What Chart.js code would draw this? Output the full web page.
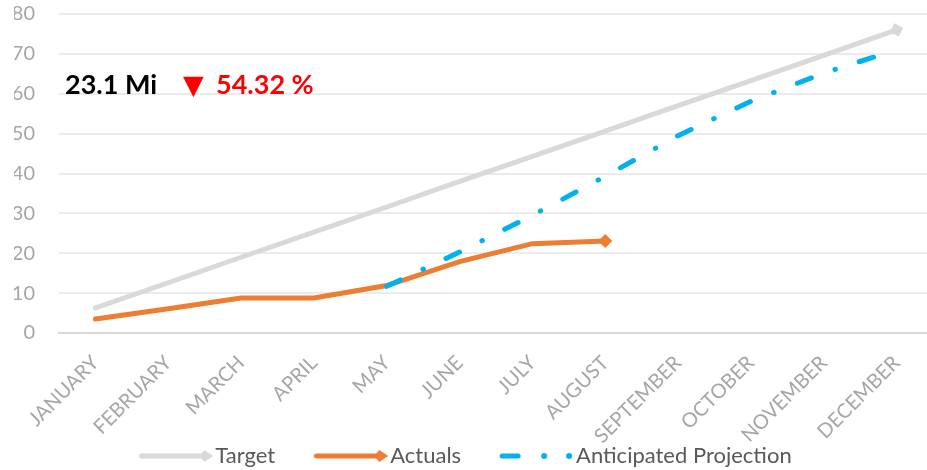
<!DOCTYPE html>
<html>
<head>
<meta charset="utf-8">
<script src="https://cdn.jsdelivr.net/npm/chart.js@4.4.1/dist/chart.umd.min.js"></script>
<style>
  html, body { margin: 0; padding: 0; background: #ffffff; overflow: hidden; }
  #wrap { position: relative; width: 940px; height: 470px; }
  .kpi { position: absolute; font-family: Lato, "Open Sans", sans-serif; font-weight: 700; font-size: 27px; white-space: nowrap; line-height: 1; }
  #val { left: 65px; top: 70px; color: #000; }
  #arrow { left: 183px; top: 71px; color: #ff0000; font-family: "DejaVu Sans", sans-serif; font-size: 27px; font-weight: 400; }
  #pct { left: 216px; top: 70px; color: #ff0000; }
</style>
</head>
<body>
<div id="wrap">
  <canvas id="c"></canvas>
  <div class="kpi" id="val">23.1 Mi</div>
  <div class="kpi" id="arrow">▼</div>
  <div class="kpi" id="pct">54.32 %</div>
</div>
<script>
const months = ["JANUARY","FEBRUARY","MARCH","APRIL","MAY","JUNE","JULY","AUGUST","SEPTEMBER","OCTOBER","NOVEMBER","DECEMBER"];
const targetValues = [6.3, 12.6, 19.0, 25.3, 31.6, 38.0, 44.3, 50.6, 57.0, 63.3, 69.6, 76.0];
const actualValues = [3.5, 6.1, 8.8, 8.8, 11.9, 17.9, 22.4, 23.1, null, null, null, null];
const projectionValues = [null, null, null, null, 11.7, 20.3, 29.5, 39.3, 49.5, 58.1, 65.2, 71.0];
const yTicks = [0, 10, 20, 30, 40, 50, 60, 70, 80];

const FONT = "Lato, 'Open Sans', sans-serif";
const GRAY = "#d9d9d9";
const ORANGE = "#ed7d31";
const BLUE = "#00b0f0";

function legendIcon(color, kind) {
  const c = document.createElement('canvas');
  c.width = 84; c.height = 16;
  const g = c.getContext('2d');
  g.strokeStyle = color; g.fillStyle = color; g.lineWidth = 5; g.lineCap = 'round';
  if (kind === 'dashdot') {
    g.beginPath(); g.moveTo(12, 8); g.lineTo(28, 8); g.stroke();
    g.beginPath(); g.arc(54, 8, 3, 0, Math.PI * 2); g.fill();
    g.beginPath(); g.arc(79, 8, 3, 0, Math.PI * 2); g.fill();
  } else {
    g.beginPath(); g.moveTo(12, 8); g.lineTo(74, 8); g.stroke();
    g.beginPath(); g.moveTo(75, 2); g.lineTo(84, 8); g.lineTo(75, 14); g.lineTo(70, 8); g.closePath(); g.fill();
  }
  return c;
}

const lastIdx = (arr) => { let k = -1; arr.forEach((v, i) => { if (v !== null) k = i; }); return k; };
function endMarker(arr, r) {
  const li = lastIdx(arr);
  return arr.map((v, i) => i === li ? r : 0);
}

const shiftLegend = {
  id: 'shiftLegend',
  afterLayout(chart) {
    const l = chart.legend;
    if (l) { l.left -= 12; l.right -= 12; }
  }
};

const ctx = document.getElementById('c');
const chart = new Chart(ctx, {
  type: 'line',
  plugins: [shiftLegend],
  data: {
    labels: months,
    datasets: [
      {
        label: 'Target', data: targetValues, borderColor: GRAY, backgroundColor: GRAY,
        borderWidth: 5, borderCapStyle: 'round', tension: 0,
        pointStyle: 'rectRot', pointRadius: endMarker(targetValues, 7), pointHoverRadius: 0,
        pointBorderWidth: 0, pointRotation: -19, order: 3
      },
      {
        label: 'Actuals', data: actualValues, borderColor: ORANGE, backgroundColor: ORANGE,
        borderWidth: 5, borderCapStyle: 'round', tension: 0, spanGaps: false,
        pointStyle: 'rectRot', pointRadius: endMarker(actualValues, 7), pointHoverRadius: 0,
        pointBorderWidth: 0, order: 2
      },
      {
        label: 'Anticipated Projection', data: projectionValues, borderColor: BLUE, backgroundColor: BLUE,
        borderWidth: 5, borderCapStyle: 'round', borderDash: [15, 25, 0.5, 25], tension: 0,
        pointRadius: 0, pointHoverRadius: 0, order: 1
      }
    ]
  },
  options: {
    responsive: true,
    maintainAspectRatio: false,
    animation: false,
    layout: { padding: { left: 14, top: 14, right: 0, bottom: 0 } },
    scales: {
      x: {
        offset: true,
        grid: { display: false, drawTicks: false },
        border: { display: true, color: GRAY, width: 2 },
        ticks: {
          color: '#a6a6a6', font: { family: FONT, size: 20 },
          maxRotation: 45, minRotation: 45, padding: 18, autoSkip: false
        },
        afterFit: (axis) => {
          axis.height = 74; axis.paddingLeft = 0; axis.paddingRight = 0;
          axis._computeLabelArea = () => undefined;
        }
      },
      y: {
        min: 0, max: 80,
        afterBuildTicks: (axis) => { axis.ticks = yTicks.map(v => ({ value: v })); },
        grid: { color: '#ebebeb', lineWidth: 2, drawTicks: false },
        border: { display: false },
        ticks: { color: '#a6a6a6', font: { family: FONT, size: 20 }, padding: 24 },
        afterFit: (axis) => { axis.width = 45; axis.paddingTop = 0; axis.paddingBottom = 0; }
      }
    },
    plugins: {
      tooltip: { enabled: false },
      legend: {
        position: 'bottom',
        maxHeight: 63,
        labels: {
          color: '#595959', font: { family: FONT, size: 22 },
          usePointStyle: true, pointStyleWidth: 66, padding: 38, boxHeight: 16,
          generateLabels: (ch) => ch.data.datasets.map((ds, i) => ({
            text: ds.label, datasetIndex: i, hidden: false, lineWidth: 0,
            fontColor: '#595959',
            pointStyle: legendIcon(ds.borderColor, i === 2 ? 'dashdot' : 'line')
          }))
        }
      }
    }
  }
});
</script>
</body>
</html>
